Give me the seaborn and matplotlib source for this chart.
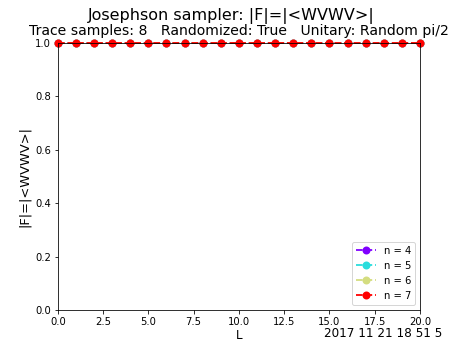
import numpy as np
import pandas as pd
import matplotlib
matplotlib.use("Agg")
import matplotlib.pyplot as plt
import seaborn as sns

# values: every series sits at |F| = 1.0 for L = 0..20
L_values = list(range(0, 21))
n_values = [4, 5, 6, 7]
fidelity = {
    4: [1.0] * 21,
    5: [1.0] * 21,
    6: [1.0] * 21,
    7: [1.0] * 21,
}
colors = ["#8000ff", "#2adddd", "#d4dd80", "#ff0000"]
stamp = "2017 11 21 18 51 5"

rows = []
for n in n_values:
    for L, f in zip(L_values, fidelity[n]):
        rows.append({"L": L, "F": f, "n": "n = %d" % n})
df = pd.DataFrame(rows)

fig, ax = plt.subplots(figsize=(463 / 72, 347 / 72), dpi=72)
sns.lineplot(data=df, x="L", y="F", hue="n", palette=colors,
             linestyle="--", marker="o", markersize=8, markeredgewidth=0,
             linewidth=1.8, ax=ax, clip_on=False)

ax.set_xlim(0, 20)
ax.set_ylim(0, 1.0)
ax.set_xticks(np.arange(0, 20.1, 2.5))
ax.set_yticks(np.arange(0, 1.01, 0.2))
ax.set_xlabel("L", fontsize=12, labelpad=2)
ax.set_ylabel("|F|=|<WVWV>|", fontsize=13)
ax.set_title("Trace samples: 8   Randomized: True   Unitary: Random pi/2",
             fontsize=14, pad=8)
fig.suptitle("Josephson sampler: |F|=|<WVWV>|", fontsize=16, y=0.978)
ax.legend(loc="lower right", fontsize=10)
fig.text(0.955, 0.028, stamp, ha="right", fontsize=12)

fig.subplots_adjust(left=0.125, right=0.907, bottom=0.107, top=0.876)
fig.savefig("out.png", dpi=72)
